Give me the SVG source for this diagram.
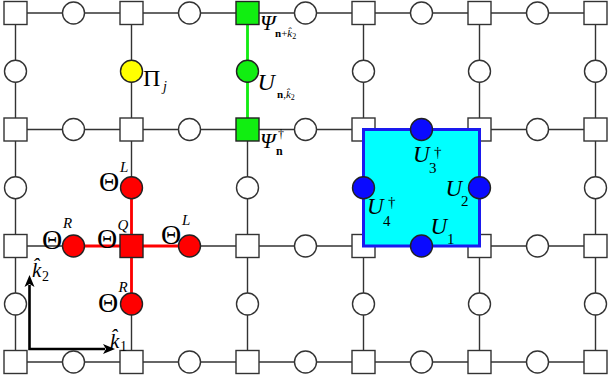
<svg xmlns="http://www.w3.org/2000/svg" width="608" height="390" viewBox="0 0 608 390">
<style>
.edge{stroke:#333;stroke-width:1.4;fill:none}
.sq{fill:#fff;stroke:#333;stroke-width:1.4}
.ci{fill:#fff;stroke:#333;stroke-width:1.4}
.green{fill:#11ee11;stroke:#222}
.yellow{fill:#ffff00;stroke:#222}
.red{fill:#ff0000;stroke:#222}
.blue{fill:#0a0aff;stroke:#222}
.gline{stroke:#11ee11;stroke-width:2.8}
.rline{stroke:#ff0000;stroke-width:2.8}
.axis{stroke:#000;stroke-width:2.6;fill:none}
text{font-family:"Liberation Serif","DejaVu Serif",serif;fill:#000}
.it{font-style:italic}
.bf{font-weight:bold}
</style>
<defs>
<marker id="arr" viewBox="0 -6 14 12" markerWidth="14" markerHeight="12" refX="2" refY="0" orient="auto-start-reverse" markerUnits="userSpaceOnUse">
<path d="M0,-5 L12,0 L0,5 L3,0 Z" fill="#000"/>
</marker>
</defs>
<g id="connectors">
<line class="edge" x1="15.5" y1="13" x2="595.5" y2="13"/>
<line class="edge" x1="15.5" y1="129.5" x2="595.5" y2="129.5"/>
<line class="edge" x1="15.5" y1="246" x2="595.5" y2="246"/>
<line class="edge" x1="15.5" y1="362" x2="595.5" y2="362"/>
<line class="edge" x1="15.5" y1="13" x2="15.5" y2="362"/>
<line class="edge" x1="131.5" y1="13" x2="131.5" y2="362"/>
<line class="edge" x1="247.5" y1="13" x2="247.5" y2="362"/>
<line class="edge" x1="363.5" y1="13" x2="363.5" y2="362"/>
<line class="edge" x1="479.5" y1="13" x2="479.5" y2="362"/>
<line class="edge" x1="595.5" y1="13" x2="595.5" y2="362"/>
<line class="gline" x1="247.5" y1="13" x2="247.5" y2="129.5"/>
<line class="rline" x1="73.5" y1="246" x2="189.5" y2="246"/>
<line class="rline" x1="131.5" y1="187.75" x2="131.5" y2="304"/>
</g>
<g id="nodes">
<g id="s-0-0"><rect class="sq" x="4" y="1.5" width="23" height="23"/></g>
<g id="s-1-0"><rect class="sq" x="120" y="1.5" width="23" height="23"/></g>
<g id="s-2-0"><rect class="sq green" x="236" y="1.5" width="23" height="23"/></g>
<g id="s-3-0"><rect class="sq" x="352" y="1.5" width="23" height="23"/></g>
<g id="s-4-0"><rect class="sq" x="468" y="1.5" width="23" height="23"/></g>
<g id="s-5-0"><rect class="sq" x="584" y="1.5" width="23" height="23"/></g>
<g id="s-0-1"><rect class="sq" x="4" y="118" width="23" height="23"/></g>
<g id="s-1-1"><rect class="sq" x="120" y="118" width="23" height="23"/></g>
<g id="s-2-1"><rect class="sq green" x="236" y="118" width="23" height="23"/></g>
<g id="s-3-1"><rect class="sq" x="352" y="118" width="23" height="23"/></g>
<g id="s-4-1"><rect class="sq" x="468" y="118" width="23" height="23"/></g>
<g id="s-5-1"><rect class="sq" x="584" y="118" width="23" height="23"/></g>
<g id="s-0-2"><rect class="sq" x="4" y="234.5" width="23" height="23"/></g>
<g id="s-1-2"><rect class="sq red" x="120" y="234.5" width="23" height="23"/></g>
<g id="s-2-2"><rect class="sq" x="236" y="234.5" width="23" height="23"/></g>
<g id="s-3-2"><rect class="sq" x="352" y="234.5" width="23" height="23"/></g>
<g id="s-4-2"><rect class="sq" x="468" y="234.5" width="23" height="23"/></g>
<g id="s-5-2"><rect class="sq" x="584" y="234.5" width="23" height="23"/></g>
<g id="s-0-3"><rect class="sq" x="4" y="350.5" width="23" height="23"/></g>
<g id="s-1-3"><rect class="sq" x="120" y="350.5" width="23" height="23"/></g>
<g id="s-2-3"><rect class="sq" x="236" y="350.5" width="23" height="23"/></g>
<g id="s-3-3"><rect class="sq" x="352" y="350.5" width="23" height="23"/></g>
<g id="s-4-3"><rect class="sq" x="468" y="350.5" width="23" height="23"/></g>
<g id="s-5-3"><rect class="sq" x="584" y="350.5" width="23" height="23"/></g>

<g id="h-0-0"><circle class="ci" cx="73.5" cy="13" r="11"/></g>
<g id="h-1-0"><circle class="ci" cx="189.5" cy="13" r="11"/></g>
<g id="h-2-0"><circle class="ci" cx="305.5" cy="13" r="11"/></g>
<g id="h-3-0"><circle class="ci" cx="421.5" cy="13" r="11"/></g>
<g id="h-4-0"><circle class="ci" cx="537.5" cy="13" r="11"/></g>
<g id="h-0-1"><circle class="ci" cx="73.5" cy="129.5" r="11"/></g>
<g id="h-1-1"><circle class="ci" cx="189.5" cy="129.5" r="11"/></g>
<g id="h-2-1"><circle class="ci" cx="305.5" cy="129.5" r="11"/></g>
<g id="h-4-1"><circle class="ci" cx="537.5" cy="129.5" r="11"/></g>
<g id="h-0-2"><circle class="ci red" cx="73.5" cy="246" r="11"/></g>
<g id="h-1-2"><circle class="ci red" cx="189.5" cy="246" r="11"/></g>
<g id="h-2-2"><circle class="ci" cx="305.5" cy="246" r="11"/></g>
<g id="h-4-2"><circle class="ci" cx="537.5" cy="246" r="11"/></g>
<g id="h-0-3"><circle class="ci" cx="73.5" cy="362" r="11"/></g>
<g id="h-1-3"><circle class="ci" cx="189.5" cy="362" r="11"/></g>
<g id="h-2-3"><circle class="ci" cx="305.5" cy="362" r="11"/></g>
<g id="h-3-3"><circle class="ci" cx="421.5" cy="362" r="11"/></g>
<g id="h-4-3"><circle class="ci" cx="537.5" cy="362" r="11"/></g>

<g id="v-0-0"><circle class="ci" cx="15.5" cy="71.25" r="11"/></g>
<g id="v-1-0"><circle class="ci yellow" cx="131.5" cy="71.25" r="11"/></g>
<g id="v-2-0"><circle class="ci green" cx="247.5" cy="71.25" r="11"/></g>
<g id="v-3-0"><circle class="ci" cx="363.5" cy="71.25" r="11"/></g>
<g id="v-4-0"><circle class="ci" cx="479.5" cy="71.25" r="11"/></g>
<g id="v-5-0"><circle class="ci" cx="595.5" cy="71.25" r="11"/></g>
<g id="v-0-1"><circle class="ci" cx="15.5" cy="187.75" r="11"/></g>
<g id="v-1-1"><circle class="ci red" cx="131.5" cy="187.75" r="11"/></g>
<g id="v-2-1"><circle class="ci" cx="247.5" cy="187.75" r="11"/></g>
<g id="v-5-1"><circle class="ci" cx="595.5" cy="187.75" r="11"/></g>
<g id="v-0-2"><circle class="ci" cx="15.5" cy="304" r="11"/></g>
<g id="v-1-2"><circle class="ci red" cx="131.5" cy="304" r="11"/></g>
<g id="v-2-2"><circle class="ci" cx="247.5" cy="304" r="11"/></g>
<g id="v-3-2"><circle class="ci" cx="363.5" cy="304" r="11"/></g>
<g id="v-4-2"><circle class="ci" cx="479.5" cy="304" r="11"/></g>
<g id="v-5-2"><circle class="ci" cx="595.5" cy="304" r="11"/></g>
</g>
<g id="plaquette">
<rect x="363.5" y="129.5" width="116" height="116.5" fill="#00ffff" stroke="#1a1aee" stroke-width="3"/>
</g>
<g id="h-3-1"><circle class="ci blue" cx="421.5" cy="129.5" r="11"/></g>
<g id="h-3-2"><circle class="ci blue" cx="421.5" cy="246" r="11"/></g>
<g id="v-3-1"><circle class="ci blue" cx="363.5" cy="187.75" r="11"/></g>
<g id="v-4-1"><circle class="ci blue" cx="479.5" cy="187.75" r="11"/></g>

<g id="axes">
<path class="axis" d="M29.5,285 V349 H105" marker-start="url(#arr)" marker-end="url(#arr)"/>
<text x="32" y="277" font-size="21" class="it">k&#x302;</text><text x="42" y="281" font-size="14">2</text>
<text x="110" y="348" font-size="21" class="it">k&#x302;</text><text x="120" y="351" font-size="14">1</text>
</g>
<g id="labels">
<text x="143" y="86" font-size="24">Π</text><text x="163" y="91" font-size="14" class="it">j</text>
<text x="260" y="30" font-size="22" class="it">Ψ</text>
<text x="275" y="37" font-size="11"><tspan class="bf">n</tspan>+<tspan class="it">k&#x302;</tspan><tspan font-size="8" dy="1.5">2</tspan></text>
<text x="257.5" y="90" font-size="24" class="it">U</text>
<text x="277" y="98" font-size="11"><tspan class="bf">n</tspan>,<tspan class="it">k&#x302;</tspan><tspan font-size="8" dy="1.5">2</tspan></text>
<text x="260" y="148" font-size="22" class="it">Ψ</text>
<text x="276" y="155" font-size="12" class="bf">n</text>
<text x="278" y="138" font-size="12">†</text>

<text x="99" y="191" font-size="28">Θ</text><text x="120" y="172" font-size="15" class="it">L</text>
<text x="42" y="249" font-size="28">Θ</text><text x="63" y="228" font-size="15" class="it">R</text>
<text x="97" y="248" font-size="28">Θ</text><text x="117.5" y="230" font-size="15" class="it">Q</text>
<text x="161" y="244" font-size="28">Θ</text><text x="182" y="225" font-size="15" class="it">L</text>
<text x="98" y="312" font-size="28">Θ</text><text x="118.5" y="292" font-size="15" class="it">R</text>

<text x="413" y="162" font-size="23" class="it">U</text><text x="429" y="173" font-size="15">3</text><text x="434" y="157" font-size="15">†</text>
<text x="445.5" y="195.5" font-size="23" class="it">U</text><text x="461" y="206" font-size="15">2</text>
<text x="367" y="213.5" font-size="23" class="it">U</text><text x="383" y="225.5" font-size="15">4</text><text x="388" y="207" font-size="15">†</text>
<text x="430.5" y="233.5" font-size="23" class="it">U</text><text x="447" y="244" font-size="15">1</text>
</g>
</svg>
